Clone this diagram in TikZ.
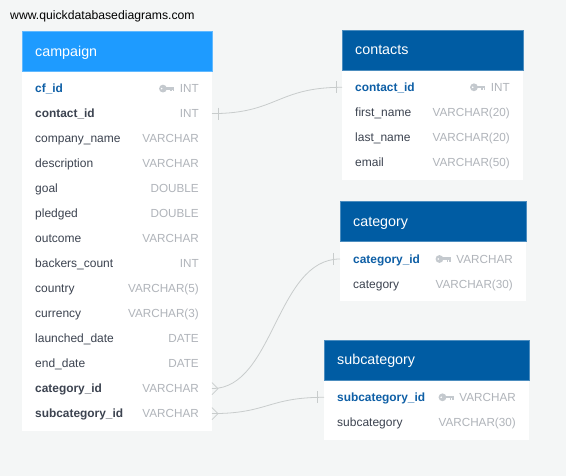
\documentclass[tikz,border=0pt]{standalone}
\usepackage{fontspec}
\setmainfont{Liberation Sans}
\usetikzlibrary{calc,positioning}
\definecolor{pagegrey}{HTML}{F4F6F6}
\definecolor{headlight}{HTML}{1E9BFF}
\definecolor{headdark}{HTML}{005CA3}
\definecolor{pkblue}{HTML}{0E5FA6}
\definecolor{coldark}{HTML}{3C4350}
\definecolor{typegrey}{HTML}{B0B4BA}
\definecolor{keygrey}{HTML}{C4C9CE}
\definecolor{linkgrey}{HTML}{C8CCCC}
\tikzset{
	x=1pt, y=-1pt,
	headbox/.style={rectangle, minimum height=40pt, inner sep=0pt, anchor=north west},
	headtext/.style={font=\fontsize{14.3}{16}\selectfont, text=white, inner sep=0pt, text height=7.4pt, text depth=0pt, anchor=west},
	bodybox/.style={rectangle, fill=white, inner sep=0pt, anchor=north west},
	plaincol/.style={font=\fontsize{12}{14}\selectfont, text=coldark},
	pkcol/.style={font=\fontsize{11.9}{14}\selectfont\bfseries, text=pkblue},
	fkcol/.style={font=\fontsize{11.9}{14}\selectfont\bfseries, text=coldark},
	coltext/.style={inner sep=0pt, text height=8.6pt, text depth=0pt, anchor=west},
	typetext/.style={font=\fontsize{11.7}{14}\selectfont, text=typegrey, inner sep=0pt, text height=8.6pt, text depth=0pt, anchor=east},
	link/.style={draw=linkgrey, line width=0.8pt},
	onebar/.pic={\draw[link] (0,-6) -- (0,6);},
	crowfoot/.pic={\draw[link] (-6,-6) -- (0,0) -- (-6,6);},
	keyicon/.pic={
		\fill[keygrey] (-11.3,0) circle (3.9);
		\fill[white] (-12.6,0) circle (0.9);
		\fill[keygrey] (-9,-1.7) rectangle (0,1);
		\fill[keygrey] (-4.2,0) rectangle (-2.4,2.8);
		\fill[keygrey] (-1.7,0) rectangle (0,2.8);
	}
}
% name (left:right:top:bottom:first row) header colour, rows
\def\dbtable#1(#2:#3:#4:#5:#6)#7#8{
	\pgfmathsetmacro{\boxw}{#3-#2-0.4}
	\pgfmathsetmacro{\boxh}{#5-#4}
	\node[bodybox, minimum width=\boxw pt, minimum height=\boxh pt] (#1) at (#2, #4) {};
	\node[headbox, fill=#7, draw=#7!70!white, line width=0.4pt, minimum width=\boxw pt] (#1-head) at (#2, #4) {};
	\node[headtext] (#1-title) at ($(#1-head.west)+(13, 0.7)$) {#1};
	\foreach \colname/\coltype/\colstyle [count=\rownum] in {#8} {
		\node[coltext, \colstyle] (#1-\rownum) at (#2+13, #6+25*\rownum-25) {\colname};
		\node[typetext] (#1-\rownum t) at (#3-13, #6+25*\rownum-25) {\coltype};
	}
}

\begin{document}
\begin{tikzpicture}
		%%%%% START %%%%%
		\useasboundingbox (0, 0) rectangle (566, 476);
		\fill[pagegrey] (0, 0) rectangle (566, 476);
		
		\node[font=\fontsize{12.2}{14}\selectfont, inner sep=0pt, anchor=west] (site) at (10, 16) {www.quickdatabasediagrams.com};
		
		\dbtable{campaign}(22:212:31.5:431:88.6){headlight}{
			cf\_id/INT/pkcol, contact\_id/INT/fkcol, company\_name/VARCHAR/plaincol,
			description/VARCHAR/plaincol, goal/DOUBLE/plaincol, pledged/DOUBLE/plaincol,
			outcome/VARCHAR/plaincol, backers\_count/INT/plaincol, country/VARCHAR(5)/plaincol,
			currency/VARCHAR(3)/plaincol, launched\_date/DATE/plaincol, end\_date/DATE/plaincol,
			category\_id/VARCHAR/fkcol, subcategory\_id/VARCHAR/fkcol}
		\dbtable{contacts}(342:523:30:180:87.3){headdark}{
			contact\_id/INT/pkcol, first\_name/VARCHAR(20)/plaincol,
			last\_name/VARCHAR(20)/plaincol, email/VARCHAR(50)/plaincol}
		\dbtable{category}(340:526:201.5:301:259){headdark}{
			category\_id/VARCHAR/pkcol, category/VARCHAR(30)/plaincol}
		\dbtable{subcategory}(324:529:340:440:397.3){headdark}{
			subcategory\_id/VARCHAR/pkcol, subcategory/VARCHAR(30)/plaincol}
		
		\pic at ([xshift=-5.5pt]campaign-1t.west) {keyicon};
		\pic at ([xshift=-5.5pt]contacts-1t.west) {keyicon};
		\pic at ([xshift=-5.5pt]category-1t.west) {keyicon};
		\pic at ([xshift=-5.5pt]subcategory-1t.west) {keyicon};
		
		\coordinate (contactfrom) at (campaign.east |- campaign-2t);
		\coordinate (contactto) at (contacts.west |- contacts-1t);
		\coordinate (categoryfrom) at (campaign.east |- campaign-13t);
		\coordinate (categoryto) at (category.west |- category-1t);
		\coordinate (subfrom) at (campaign.east |- campaign-14t);
		\coordinate (subto) at (subcategory.west |- subcategory-1t);
		
		\draw[link] (contactfrom) .. controls ($(contactfrom)+(65, 0)$) and ($(contactto)+(-65, 0)$) .. (contactto);
		\draw[link] (categoryfrom) .. controls ($(categoryfrom)+(62, 0)$) and ($(categoryto)+(-64, 0)$) .. (categoryto);
		\draw[link] (subfrom) .. controls ($(subfrom)+(56, 0)$) and ($(subto)+(-56, 0)$) .. (subto);
		
		\pic at ([xshift=6pt]contactfrom) {onebar};
		\pic at ([xshift=-6pt]contactto) {onebar};
		\pic at ([xshift=6pt]categoryfrom) {crowfoot};
		\pic at ([xshift=-6.5pt]categoryto) {onebar};
		\pic at ([xshift=6pt]subfrom) {crowfoot};
		\pic at ([xshift=-6.5pt]subto) {onebar};
		%%%%% END %%%%%
	\end{tikzpicture}
\end{document}
